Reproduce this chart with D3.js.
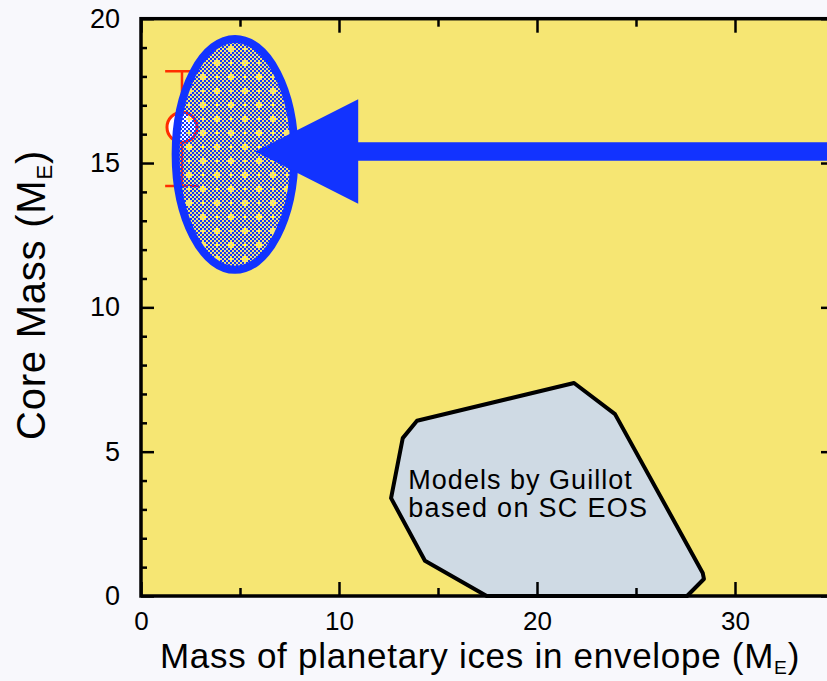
<!DOCTYPE html>
<html><head><meta charset="utf-8">
<script src="https://cdn.jsdelivr.net/npm/d3@7"></script>
<style>
body{margin:0;background:#f8f8fc;}
svg{display:block;}
</style>
</head><body>
<svg id="chart" width="827" height="681"></svg>
<script>
// Axis extents and ticks
const xDomain = [0, 35];
const yDomain = [0, 20];
const xMajorTicks = [0, 10, 20, 30];
const xMinorTicks = [5, 15, 25, 35];
const yMajorTicks = [0, 5, 10, 15, 20];
const yMinorTicks = [1, 2, 3, 4, 6, 7, 8, 9, 11, 12, 13, 14, 16, 17, 18, 19];

// Interior models region: envelope ice mass vs core mass
const guillotX = [21.87, 23.94, 28.37, 28.43, 27.58, 17.46, 14.34, 12.63, 13.22, 13.94];
const guillotY = [7.38, 6.30, 0.80, 0.59, 0.00, 0.00, 1.22, 3.39, 5.47, 6.07];
const guillotLabel = ["Models by Guillot", "based on SC EOS"];

// Estimated solution region (ellipse centre and half-axes, in M_E)
const regionCenter = [4.75, 15.3];
const regionRadii = [3.0, 4.0];

// Single estimate with vertical error bar
const pointX = 2.07, pointY = 16.24, pointLow = 14.2, pointHigh = 18.18, capHalf = 0.85;

// Arrow pointing to the region
const arrowY = 15.4, arrowTip = 5.76, arrowBack = 10.97, arrowHeadHalf = 1.81, shaftHalf = 0.32, arrowEnd = 37;

const xLabel = "Mass of planetary ices in envelope (M";
const yLabel = "Core Mass (M";
const subLabel = "E";

const FONT = '"Liberation Sans", Arial, Helvetica, sans-serif';
const mLeft = 141, mTop = 18.7, plotW = 693, plotH = 577.3;
const BLUE = "#1233ff", RED = "#ff2d00", YELLOW = "#f6e673";

const svg = d3.select("#chart");
const x = d3.scaleLinear().domain(xDomain).range([mLeft, mLeft + plotW]);
const y = d3.scaleLinear().domain(yDomain).range([mTop + plotH, mTop]);

const defs = svg.append("defs");
const checker = defs.append("pattern").attr("id", "checker")
  .attr("patternUnits", "userSpaceOnUse").attr("width", 4).attr("height", 4);
checker.append("rect").attr("x", 0).attr("y", 0).attr("width", 2).attr("height", 2).attr("fill", BLUE);
checker.append("rect").attr("x", 2).attr("y", 2).attr("width", 2).attr("height", 2).attr("fill", BLUE);
const dots = defs.append("pattern").attr("id", "dots")
  .attr("patternUnits", "userSpaceOnUse").attr("width", 14).attr("height", 14);
dots.append("rect").attr("x", 6).attr("y", 4).attr("width", 2).attr("height", 6).attr("fill", YELLOW);
dots.append("rect").attr("x", 4).attr("y", 6).attr("width", 6).attr("height", 2).attr("fill", YELLOW);

// plot background
svg.append("rect").attr("x", x(xDomain[0])).attr("y", y(yDomain[1]))
  .attr("width", x(xDomain[1]) - x(xDomain[0])).attr("height", y(yDomain[0]) - y(yDomain[1]))
  .attr("fill", YELLOW);

// spread a text to a given width
function fit(t, target) {
  const w = t.node().getBBox().width;
  const n = t.text().length;
  t.attr("letter-spacing", (target - w) / n);
}

// Guillot models polygon
const line = d3.line().x(d => x(d[0])).y(d => y(d[1])).curve(d3.curveLinearClosed);
const poly = guillotX.map((v, i) => [v, guillotY[i]]);
svg.append("path").attr("d", line(poly))
  .attr("fill", "#cfdae4").attr("stroke", "#000").attr("stroke-width", 4).attr("stroke-linejoin", "round");
guillotLabel.forEach((t, i) => {
  const tl = svg.append("text").style("font-family", FONT).attr("font-size", 27).attr("fill", "#000")
    .attr("x", x(13.5)).attr("y", y(3.69) + i * 27.2).text(t);
  fit(tl, i === 0 ? 225 : 240);
});

// error bar and point
const eb = svg.append("g").attr("stroke", RED).attr("stroke-width", 2.5).attr("fill", "none");
eb.append("line").attr("x1", x(pointX)).attr("x2", x(pointX)).attr("y1", y(pointHigh)).attr("y2", y(pointLow));
[pointHigh, pointLow].forEach(v => eb.append("line")
  .attr("x1", x(pointX - capHalf)).attr("x2", x(pointX + capHalf)).attr("y1", y(v)).attr("y2", y(v)));
svg.append("circle").attr("cx", x(pointX)).attr("cy", y(pointY)).attr("r", 15)
  .attr("fill", "#fff").attr("stroke", RED).attr("stroke-width", 3);

// solution region ellipse
const ecx = x(regionCenter[0]), ecy = y(regionCenter[1]);
const erx = x(regionCenter[0] + regionRadii[0]) - ecx, ery = ecy - y(regionCenter[1] + regionRadii[1]);
svg.append("ellipse").attr("cx", ecx).attr("cy", ecy).attr("rx", erx).attr("ry", ery).attr("fill", "url(#checker)");
svg.append("ellipse").attr("cx", ecx).attr("cy", ecy).attr("rx", erx).attr("ry", ery).attr("fill", "url(#dots)");
svg.append("ellipse").attr("cx", ecx).attr("cy", ecy).attr("rx", erx).attr("ry", ery)
  .attr("fill", "none").attr("stroke", BLUE).attr("stroke-width", 8);

// arrow
const arrow = [
  [arrowTip, arrowY], [arrowBack, arrowY + arrowHeadHalf], [arrowBack, arrowY + shaftHalf],
  [arrowEnd, arrowY + shaftHalf], [arrowEnd, arrowY - shaftHalf], [arrowBack, arrowY - shaftHalf],
  [arrowBack, arrowY - arrowHeadHalf]
];
svg.append("path").attr("d", line(arrow)).attr("fill", BLUE);

// axes (ticks point inward on all four sides)
function styleAxis(g) {
  g.attr("font-family", null);
  g.select(".domain").remove();
  g.selectAll(".tick line").attr("stroke", "#000").attr("stroke-width", 2.5);
  g.selectAll(".tick text").attr("fill", "#000").style("font-family", FONT);
}
const fmt = d3.format("d");
svg.append("g").attr("transform", `translate(0,${y(0)})`)
  .call(d3.axisBottom(x).tickValues(xMajorTicks).tickSize(-14).tickPadding(16).tickFormat(fmt))
  .call(styleAxis).attr("font-size", 26);
svg.append("g").attr("transform", `translate(0,${y(0)})`)
  .call(d3.axisBottom(x).tickValues(xMinorTicks).tickSize(-8).tickFormat(""))
  .call(styleAxis);
svg.append("g").attr("transform", `translate(0,${y(20)})`)
  .call(d3.axisTop(x).tickValues(xMajorTicks).tickSize(-14).tickFormat(""))
  .call(styleAxis);
svg.append("g").attr("transform", `translate(0,${y(20)})`)
  .call(d3.axisTop(x).tickValues(xMinorTicks).tickSize(-8).tickFormat(""))
  .call(styleAxis);
svg.append("g").attr("transform", `translate(${x(0)},0)`)
  .call(d3.axisLeft(y).tickValues(yMajorTicks).tickSize(-13).tickPadding(21).tickFormat(fmt))
  .call(styleAxis).attr("font-size", 27);
svg.append("g").attr("transform", `translate(${x(0)},0)`)
  .call(d3.axisLeft(y).tickValues(yMinorTicks).tickSize(-6).tickFormat(""))
  .call(styleAxis);
svg.append("g").attr("transform", `translate(${x(35)},0)`)
  .call(d3.axisRight(y).tickValues(yMajorTicks).tickSize(-13).tickFormat(""))
  .call(styleAxis);
svg.append("g").attr("transform", `translate(${x(35)},0)`)
  .call(d3.axisRight(y).tickValues(yMinorTicks).tickSize(-6).tickFormat(""))
  .call(styleAxis);

// frame
svg.append("rect").attr("x", x(0)).attr("y", y(20)).attr("width", x(35) - x(0)).attr("height", y(0) - y(20))
  .attr("fill", "none").attr("stroke", "#000").attr("stroke-width", 3.5);

// axis titles
function title(g, text, size) {
  const t = g.append("text").style("font-family", FONT).attr("font-size", size).attr("fill", "#000");
  t.append("tspan").text(text);
  t.append("tspan").attr("font-size", size * 0.55).attr("dy", size * 0.18).text(subLabel);
  t.append("tspan").attr("dy", -size * 0.18).text(")");
  return t;
}
const xt = title(svg, xLabel, 35).attr("x", 160).attr("y", 668);
const yg = svg.append("g").attr("transform", "translate(45,440) rotate(-90)");
const yt = title(yg, yLabel, 40);
fit(xt, 640);
fit(yt, 290);
</script>
</body></html>
